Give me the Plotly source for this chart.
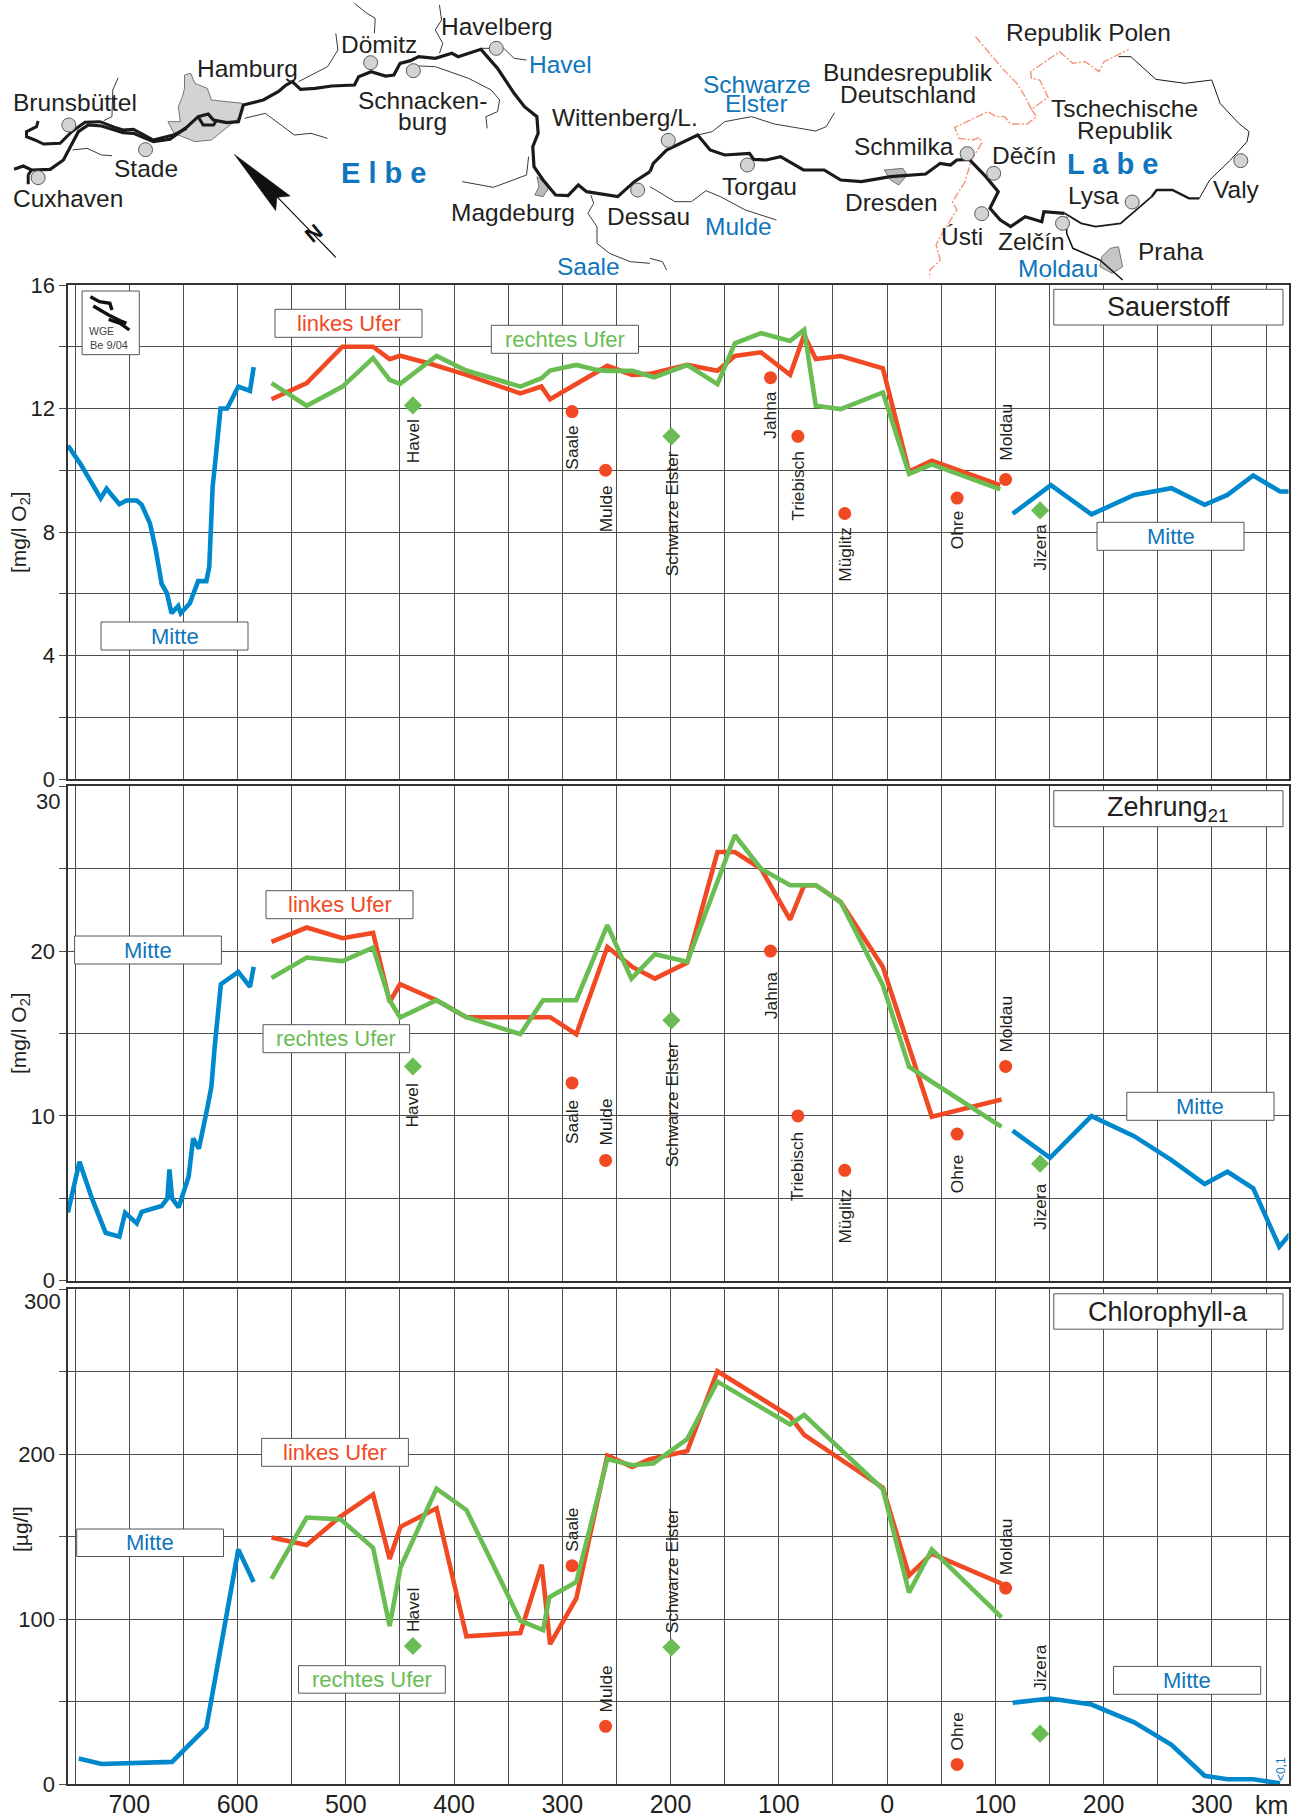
import plotly.graph_objects as go

W, H = 1298, 1820
FONT = "Liberation Sans"
DARK = "#231f20"
RED, GREEN, BLUE = "#f04923", "#69bd53", "#0088cc"
TBLUE = "#0f75bc"
GRID = "#4d4d4d"

# ---- Panel definitions -------------------------------------------------
PANEL_TITLES = ["Sauerstoff", "Zehrung<sub>21</sub>", "Chlorophyll-a"]
XTICKS = [-700, -600, -500, -400, -300, -200, -100, 0, 100, 200, 300]
XLABELS = ["700", "600", "500", "400", "300", "200", "100", "0", "100", "200", "300"]
XGRID = [-750, -650, -550, -450, -350, -250, -150, -50, 50, 150, 250, 350]

# ---- Sauerstoff --------------------------------------------------------
o2_mitte_l_km = [-756.7,-745,-726.4,-721,-709.2,-702.7,-693.1,-688.5,-680.9,-675.5,-670.1,-665.2,-661,-654.8,-652.5,-644.1,-636.4,-628.8,-626.1,-623,-621,-615.7,-609.6,-599.3,-588.5,-585.1]
o2_mitte_l = [10.8,10.2,9.09,9.4,8.9,9.02,9.02,8.88,8.28,7.42,6.32,6.02,5.37,5.6,5.37,5.69,6.41,6.41,6.88,9.47,10.12,12.0,12.0,12.71,12.57,13.34]
o2_links_km = [-568.6,-536.1,-503.1,-474.8,-459.5,-449.9,-421.2,-388.6,-338.8,-319.3,-311.3,-258.4,-235.4,-219.1,-184.6,-156.7,-140.6,-116.5,-89.6,-76.6,-65.9,-42.9,-3.9,20.3,41.3,104.5]
o2_links = [12.3,12.82,14.0,14.0,13.6,13.71,13.44,13.09,12.49,12.71,12.3,13.38,13.09,13.12,13.41,13.22,13.7,13.82,13.09,14.38,13.6,13.7,13.3,9.96,10.31,9.52]
o2_rechts_km = [-568.6,-536.1,-503.1,-474.8,-459.5,-449.9,-416.2,-388.6,-338.8,-319.3,-311.3,-287.1,-268,-258.4,-235.4,-215.3,-184.6,-156.7,-140.6,-116.5,-89.6,-76.6,-65.9,-42.9,-3.9,20.3,41.3,104.5]
o2_rechts = [12.82,12.09,12.71,13.63,12.93,12.8,13.7,13.23,12.71,12.98,13.23,13.41,13.25,13.22,13.22,13.01,13.41,12.79,14.11,14.44,14.19,14.55,12.09,11.98,12.52,9.88,10.19,9.38]
o2_mitte_r_km = [116,151.3,188.8,228.2,262.7,293.3,314.4,338.2,363,372.2]
o2_mitte_r = [8.59,9.52,8.57,9.2,9.42,8.88,9.2,9.83,9.31,9.31]
o2_trib_names = ["Havel","Saale","Mulde","Schwarze Elster","Jahna","Triebisch","Müglitz","Ohre","Moldau","Jizera"]
o2_trib_km = [-438,-291,-260,-199.2,-107.7,-82.4,-39.1,64.7,109.5,141.3]
o2_trib = [12.1,11.9,10.0,11.1,13.0,11.1,8.6,9.1,9.7,8.7]
o2_trib_gap = [-13,-13,-14,-14,-13,-14,-12,-12,18,-13]

# ---- Zehrung -----------------------------------------------------------
z_mitte_l_km = [-756.7,-746,-734.5,-721.8,-709.2,-703.8,-693.1,-688.5,-670.1,-664.8,-662.9,-660.5,-654.4,-645.2,-641,-635.7,-628,-624.2,-621.1,-615.4,-599.3,-588.5,-585.1]
z_mitte_l = [4.14,7.22,4.99,2.91,2.67,4.12,3.48,4.18,4.53,4.99,6.75,4.99,4.45,6.31,8.63,8.02,10.45,11.76,14.19,17.99,18.74,17.83,19.04]
z_links_km = [-568.6,-536.1,-503.1,-474.8,-459.5,-449.9,-416.2,-388.6,-311.3,-287.1,-258.4,-235.4,-214.5,-184.6,-156.7,-140.6,-116.5,-89.6,-76.6,-65.9,-42.9,-3.9,41.3,105.7]
z_links = [20.56,21.43,20.78,21.1,16.92,17.99,17.02,15.99,15.99,14.96,20.25,19.04,18.33,19.3,26.01,26.01,25,21.91,24,24,22.98,19.04,9.95,11.0]
z_rechts_km = [-568.6,-536.1,-503.1,-474.8,-459.5,-449.9,-416.2,-388.6,-338.8,-317.8,-287.1,-258.4,-236.2,-214.5,-184.6,-140.6,-116.5,-89.6,-65.9,-42.9,-3.9,20.3,41.3,105.7]
z_rechts = [18.37,19.61,19.39,20.21,17.02,15.97,17.02,15.99,14.96,17.02,17.02,21.57,18.33,19.81,19.35,27.03,25.0,24.0,24.0,22.98,17.93,12.98,12.07,9.34]
z_mitte_r_km = [116,150.5,188.8,228.2,262.7,293.3,314.4,338.2,362.3,372.2]
z_mitte_r = [9.1,7.46,9.99,8.77,7.32,5.86,6.61,5.6,2.06,2.83]
z_trib_names = ["Havel","Saale","Mulde","Schwarze Elster","Jahna","Triebisch","Müglitz","Ohre","Moldau","Jizera"]
z_trib_km = [-438,-291,-260,-199.2,-107.7,-82.4,-39.1,64.7,109.5,141.3]
z_trib = [13,12,7.3,15.8,20,10,6.7,8.9,13,7.1]
z_trib_gap = [-16,-16,14,-21,-20,-15,-17,-20,13,-19]

# ---- Chlorophyll-a -----------------------------------------------------
c_mitte_l_km = [-746.7,-725.7,-660.5,-628.8,-599.3,-585.1]
c_mitte_l = [15.4,12.1,13.4,34.2,142.2,122.5]
c_links_km = [-568.6,-536.1,-505.4,-474.8,-459.5,-449.5,-416.2,-388.6,-338.8,-319,-311.3,-287.1,-258.4,-235.4,-219.1,-184.6,-156.7,-89.6,-76.6,-3.9,20.3,41.3,105.7]
c_links = [149.5,144.9,162,175.6,136.5,156,167.2,89.6,91.6,133,84.8,112.5,199.2,192.3,197,201.9,250.3,222.8,211.7,179.7,126.5,139.7,121.5]
c_rechts_km = [-568.6,-536.1,-504.7,-474.8,-459.5,-449.5,-416.2,-388.6,-338.8,-317.8,-312,-287.1,-258.4,-235.4,-216,-184.6,-156.7,-89.6,-76.6,-3.9,20.3,41.3,105.7]
c_rechts = [124.4,161.6,160.5,143.2,95.8,131.3,179.1,166.2,99,93.3,113.2,122.5,197.1,193.3,194.4,209.2,244,218,223.8,178.7,116.1,142.2,101]
c_mitte_r_km = [116,150.5,188.8,228.2,262.7,293.3,314.4,338.2,363]
c_mitte_r = [49.3,51.8,48.2,37.4,23.8,5,2.9,2.9,0.4]
c_trib_names = ["Havel","Saale","Mulde","Schwarze Elster","Ohre","Moldau","Jizera"]
c_trib_km = [-438,-291,-260,-199.2,64.7,109.5,141.3]
c_trib = [83.7,132.4,35,82.9,11.9,118.8,30.5]
c_trib_gap = [13,13,13,13,13,12,42]

RIGHT_BANK = {"Havel", "Schwarze Elster", "Jizera"}

# ---- Map outlines (sketch coordinates) ---------------------------------
elbe_lower = [(34,508),(56,498),(76,510),(121,508),(153,480),(170,440),(189,395),(213,375),(245,378),(297,398),(322,400),(370,425),(410,418),(450,382),(478,350),(502,342),(515,360),(547,368),(575,365),(587,315),(635,300),(671,275),(690,255),(705,245),(725,268),(760,265),(800,258),(855,255),(865,230),(895,215),(930,228),(950,225),(965,190),(990,182),(1010,170),(1050,175),(1090,160),(1105,170),(1160,148),(1200,205),(1240,280),(1265,320),(1295,350),(1298,400),(1285,440),(1288,500),(1310,540),(1340,585),(1370,587),(1395,555),(1415,575),(1490,590),(1530,545),(1568,515)]
elbe_upper = [(0,515),(8,490),(40,450),(115,405),(145,450),(180,465),(240,460),(250,478),(280,480),(315,470),(370,510),(420,510),(460,540),(510,545),(580,530),(665,522),(700,490),(725,495),(740,480),(770,478),(810,530),(840,575),(820,625),(845,660),(870,680),(905,650),(945,665),(950,635),(1000,640)]
labe_mid = [(1000,640),(1040,670),(1075,680),(1135,670),(1210,590)]
labe_mid2 = [(1210,590),(1222,570),(1260,570),(1300,595),(1325,595)]
labe_thin = [(1325,595),(1350,540),(1400,480),(1440,425),(1445,395),(1420,370),(1375,310),(1355,240),(1290,250),(1220,238),(1160,170),(1130,170)]
moldau = [(1005,650),(1005,700),(1020,745),(1085,780),(1140,840)]
estuary = [(92,363),(88,380),(64,395),(64,410),(84,420),(105,432),(145,430),(173,395),(205,367),(241,365),(277,382),(297,390),(322,388),(370,420),(418,405),(450,385)]
cuxhaven_arm = [(76,510),(68,525),(68,553)]
hamburg_loop = [(478,350),(490,375),(515,375),(523,360)]
thin_left = [
    [(855,10),(885,40),(905,55),(903,100)],
    [(810,100),(815,150),(790,200),(720,245)],
    [(1060,15),(1065,60),(1050,90),(1068,130),(1060,160)],
    [(1160,145),(1215,145),(1240,175),(1270,180)],
    [(990,197),(1050,200),(1130,235),(1185,270),(1205,300),(1200,335),(1172,350),(1175,385)],
    [(590,355),(640,340),(710,405),(750,400),(790,415)],
    [(285,233),(272,270),(270,350),(250,362)],
    [(175,450),(210,445),(245,465),(270,467)],
    [(1115,545),(1190,562),(1270,525),(1275,470)],
    [(1425,585),(1432,610),(1418,640),(1440,680),(1440,730),(1470,760),(1520,785),(1568,790)],
]
thin_right = [
    [(0,560),(60,605),(100,605),(135,572),(170,590),(230,630),(305,660)],
    [(0,775),(30,785),(40,810)],
    [(115,405),(150,395),(180,365),(245,350),(300,372),(400,393),(425,380),(445,338)],
]
border_a = [(785,110),(850,205),(885,250),(905,290),(920,328),(960,292),(940,240),(920,235),(918,215),(988,155),(1020,190),(1050,185),(1083,215),(1095,185),(1155,148)]
border_b = [(920,328),(932,350),(910,372),(870,372),(855,350),(835,350),(815,335),(735,382),(745,415),(780,420),(795,412),(800,430),(775,480),(760,545),(730,605),(740,630),(700,710),(690,735),(700,780),(675,810),(675,835)]
hamburg = [(460,220),(445,225),(445,265),(440,290),(430,320),(435,365),(405,365),(420,400),(470,425),(510,420),(540,390),(580,350),(585,310),(540,305),(510,300),(500,265),(470,250)]
magdeburg = [(1295,530),(1300,560),(1290,585),(1310,590),(1325,560)]
dresden = [(565,510),(610,505),(620,525),(600,555),(580,540)]
praha = [(1090,770),(1110,745),(1130,740),(1140,800),(1115,820),(1085,800)]
arrow_head = [(565,463),(700,588),(668,592),(665,632)]
arrow_shaft = [(668,590),(810,772)]
towns_left = [(166,375),(351,449),(92,533),(894,188),(997,212),(1197,145),(1538,570)]
towns_right = [(44,421),(235,495),(765,461),(829,520),(800,641),(995,670),(1163,606),(1425,482)]

map_text_left = [
    ("Brunsbüttel",182,308,DARK),("Stade",351,505,DARK),("Cuxhaven",165,595,DARK),("Hamburg",598,205,DARK),
    ("Dömitz",913,132,DARK),("Havelberg",1198,80,DARK),("Havel",1352,193,TBLUE),("Schnacken-",1018,300,DARK),
    ("burg",1018,365,DARK),("Magdeburg",1237,637,DARK),("Saale",1420,800,TBLUE),
    ("Wittenberg/L.",1508,352,DARK),("Dessau",1565,648,DARK),
]
map_text_right = [
    ("Schwarze",258,253,TBLUE),("Elster",258,310,TBLUE),("Bundesrepublik",622,218,DARK),("Deutschland",622,283,DARK),
    ("Republik Polen",1057,98,DARK),("Tschechische",1145,325,DARK),("Republik",1145,390,DARK),("Torgau",265,558,DARK),
    ("Mulde",213,680,TBLUE),("Schmilka",612,440,DARK),("Dresden",583,608,DARK),("Děčín",902,467,DARK),
    ("Lysa",1070,585,DARK),("Valy",1415,567,DARK),("Ústi",753,708,DARK),("Zelčín",920,725,DARK),
    ("Moldau",983,805,TBLUE),("Praha",1257,755,DARK),
]

logo_box = [(198,33),(336,33),(336,224),(198,224),(198,33)]
logo_strokes = [[(218,50),(240,65),(265,70),(270,90)],[(225,78),(262,105),(295,125),(305,130)],[(262,118),(290,130),(312,150)]]

# label boxes: text, colour, left, top, right, bottom (page pixels)
boxes = [
    ("linkes Ufer",RED,275,309.3,422,337.3,22),("rechtes Ufer",GREEN,491.3,325.3,638.5,353.3,22),
    ("Mitte",TBLUE,101,622,248,650,22),("Mitte",TBLUE,1097,522.3,1244,550.3,22),
    (PANEL_TITLES[0],DARK,1053.8,289.3,1283,325,27),
    ("linkes Ufer",RED,266,890.7,413,918.7,22),("rechtes Ufer",GREEN,263,1024.7,409.6,1052.7,22),
    ("Mitte",TBLUE,74.6,936,221.4,964,22),("Mitte",TBLUE,1126.8,1092.3,1274,1120.3,22),
    (PANEL_TITLES[1],DARK,1053.8,790.7,1283,826.7,27),
    ("linkes Ufer",RED,261.6,1438.4,408.4,1466.3,22),("rechtes Ufer",GREEN,298.5,1665.7,445.3,1693.2,22),
    ("Mitte",TBLUE,76.7,1529,223.5,1556.5,22),("Mitte",TBLUE,1113.5,1666.4,1260.7,1694.3,22),
    (PANEL_TITLES[2],DARK,1053.8,1293.8,1283,1329.2,27),
]

# ---- Geometry ----------------------------------------------------------
XL, XR = 68, 1288.5
PANELS = [(285, 779), (786.3, 1280.7), (1289.3, 1784)]
YTICKS = [[0, 4, 8, 12, 16], [0, 10, 20], [0, 100, 200]]
YLABELS = [["0", "4", "8", "12", "16"], ["0", "10", "20"], ["0", "100", "200"]]
YGRID = [[2, 6, 10, 14], [5, 15, 25, 30], [50, 150, 250, 300]]
YRANGE = [[0, 16], [0, 30], [0, 300]]
KM_LEFT = -756.6
KM_RIGHT = KM_LEFT + (XR - XL) / 1.0826

fig = go.Figure()


def line(xax, yax, xs, ys, color, width=4.6, dash=None):
    fig.add_trace(go.Scatter(x=xs, y=ys, mode="lines", xaxis=xax, yaxis=yax, hoverinfo="skip",
                             line=dict(color=color, width=width, dash=dash), showlegend=False))


datasets = [
    (o2_mitte_l_km,o2_mitte_l,o2_links_km,o2_links,o2_rechts_km,o2_rechts,o2_mitte_r_km,o2_mitte_r,o2_trib_names,o2_trib_km,o2_trib,o2_trib_gap),
    (z_mitte_l_km,z_mitte_l,z_links_km,z_links,z_rechts_km,z_rechts,z_mitte_r_km,z_mitte_r,z_trib_names,z_trib_km,z_trib,z_trib_gap),
    (c_mitte_l_km,c_mitte_l,c_links_km,c_links,c_rechts_km,c_rechts,c_mitte_r_km,c_mitte_r,c_trib_names,c_trib_km,c_trib,c_trib_gap),
]

annotations = []
for i, d in enumerate(datasets):
    xa, ya = f"x{i+1 if i else ''}", f"y{i+1 if i else ''}"
    names = d[8]
    reds = [j for j, n in enumerate(names) if n not in RIGHT_BANK]
    greens = [j for j, n in enumerate(names) if n in RIGHT_BANK]
    fig.add_trace(go.Scatter(x=[d[9][j] for j in reds], y=[d[10][j] for j in reds], mode="markers", xaxis=xa, yaxis=ya,
                             hoverinfo="skip", showlegend=False, marker=dict(symbol="circle", size=13, color=RED)))
    fig.add_trace(go.Scatter(x=[d[9][j] for j in greens], y=[d[10][j] for j in greens], mode="markers", xaxis=xa, yaxis=ya,
                             hoverinfo="skip", showlegend=False, marker=dict(symbol="diamond", size=14, color=GREEN)))
    line(xa, ya, d[0], d[1], BLUE)
    line(xa, ya, d[2], d[3], RED)
    line(xa, ya, d[4], d[5], GREEN)
    line(xa, ya, d[6], d[7], BLUE)
    for n, km, v, g in zip(d[8], d[9], d[10], d[11]):
        annotations.append(dict(text=n, x=km, y=v, xref=xa, yref=ya, showarrow=False, textangle=-90, yshift=g,
                                yanchor="top" if g < 0 else "bottom", xanchor="center", borderpad=0,
                                font=dict(family=FONT, size=17.3, color=DARK)))

# map + logo on a page-pixel overlay
OV = ("x4", "y4")


def L(pts):
    return [p[0] / 2.412 for p in pts], [p[1] / 3 for p in pts]


def R(pts):
    return [650 + p[0] / 2.412 for p in pts], [p[1] / 3 for p in pts]


def LG(pts):
    return [p[0] / 2.412 for p in pts], [280 + p[1] / 3 for p in pts]


def poly(xy, fill, outline="#58595b", w=0.8):
    fig.add_trace(go.Scatter(x=xy[0] + xy[0][:1], y=xy[1] + xy[1][:1], mode="lines", fill="toself", fillcolor=fill,
                             line=dict(color=outline, width=w), xaxis=OV[0], yaxis=OV[1], hoverinfo="skip", showlegend=False))


poly(L(hamburg), "#d1d3d4")
poly(L(magdeburg), "#b9bbbd")
poly(R(dresden), "#b9bbbd")
poly(R(praha), "#c4c6c8")
for pts in thin_left:
    line(*OV, *L(pts), "#3a3a3a", 1)
for pts in thin_right:
    line(*OV, *R(pts), "#3a3a3a", 1)
line(*OV, *R(border_a), "#f4957a", 1.4, "8px,2px,2px,2px")
line(*OV, *R(border_b), "#f4957a", 1.4, "8px,2px,2px,2px")
line(*OV, *L(elbe_lower), "#1a1a1a", 3.2)
line(*OV, *L(estuary), "#1a1a1a", 3)
line(*OV, *L(cuxhaven_arm), "#1a1a1a", 3)
line(*OV, *L(hamburg_loop), "#1a1a1a", 3)
line(*OV, *R(elbe_upper), "#1a1a1a", 3.2)
line(*OV, *R(labe_mid), "#1a1a1a", 1.8)
line(*OV, *R(labe_mid2), "#1a1a1a", 2.4)
line(*OV, *R(labe_thin), "#1a1a1a", 1)
line(*OV, *R(moldau), "#1a1a1a", 1.6)
poly(L(arrow_head), "#111111", "#111111", 0.5)
line(*OV, *L(arrow_shaft), "#111111", 1.2)
tx = L(towns_left)[0] + R(towns_right)[0]
ty = L(towns_left)[1] + R(towns_right)[1]
fig.add_trace(go.Scatter(x=tx, y=ty, mode="markers", xaxis=OV[0], yaxis=OV[1], hoverinfo="skip", showlegend=False,
                         marker=dict(size=14, color="#d1d3d4", line=dict(color="#58595b", width=1))))
# logo
poly(LG(logo_box), "#ffffff", "#555555", 1)
for pts in logo_strokes:
    line(*OV, *LG(pts), "#111111", 3.4)


def page(text, x, y, size, color=DARK, **kw):
    annotations.append(dict(text=text, x=x, y=y, xref="x4", yref="y4", showarrow=False,
                            xanchor="center", yanchor="middle", borderpad=0,
                            font=dict(family=FONT, size=size, color=color), **kw))


for t, xx, yy, c in map_text_left:
    page(t, xx / 2.412, yy / 3, 24.5, c)
for t, xx, yy, c in map_text_right:
    page(t, 650 + xx / 2.412, yy / 3, 24.5, c)
page("<b>E l b e</b>", 925 / 2.412, 518 / 3, 29, TBLUE)
page("<b>L a b e</b>", 650 + 1115 / 2.412, 492 / 3, 29, TBLUE)
page("<b>N</b>", 755 / 2.412, 700 / 3, 21, "#111111", textangle=-40)
page("WGE", 245 / 2.412, 280 + 153 / 3, 10.5, "#444444")
page("Be 9/04", 262 / 2.412, 280 + 195 / 3, 11, "#444444")
page("[mg/l O<sub>2</sub>]", 20, 532, 21, textangle=-90)
page("[mg/l O<sub>2</sub>]", 20, 1033, 21, textangle=-90)
page("[µg/l]", 20, 1529, 21, textangle=-90)
page("30", 48, 801, 22)
page("300", 42, 1301, 22)
page("km", 1271, 1805, 25)
page("&lt;0,1", 1281, 1769, 12, TBLUE, textangle=-90)

shapes = []
for t, c, x0, y0, x1, y1, s in boxes:
    shapes.append(dict(type="rect", xref="x4", yref="y4", x0=x0, x1=x1, y0=y0, y1=y1,
                       fillcolor="white", line=dict(color="#555555", width=1), layer="above"))
    page(t, (x0 + x1) / 2, (y0 + y1) / 2, s, c)

layout = dict(width=W, height=H, margin=dict(l=0, r=0, t=0, b=0, pad=0, autoexpand=False), paper_bgcolor="white",
              plot_bgcolor="rgba(0,0,0,0)", showlegend=False, shapes=shapes, annotations=annotations, hovermode=False)
for i, (top, bot) in enumerate(PANELS):
    suf = str(i + 1) if i else ""
    layout[f"xaxis{suf}"] = dict(domain=[XL / W, XR / W], range=[KM_LEFT, KM_RIGHT], anchor=f"y{suf}", tickmode="array",
                                 tickvals=XTICKS, ticktext=XLABELS, showticklabels=(i == 2),
                                 showgrid=True, gridcolor=GRID, gridwidth=1.2, zeroline=False, showline=True, mirror=True,
                                 linecolor="#333333", linewidth=2, ticks="", ticklabelstandoff=-3,
                                 minor=dict(tickmode="array", tickvals=XGRID, showgrid=True, gridcolor=GRID, gridwidth=1.2, ticks=""),
                                 tickfont=dict(family=FONT, size=25, color=DARK), fixedrange=True)
    layout[f"yaxis{suf}"] = dict(domain=[1 - bot / H, 1 - top / H], range=YRANGE[i], anchor=f"x{suf}", tickmode="array",
                                 tickvals=YTICKS[i], ticktext=YLABELS[i], showgrid=True, gridcolor=GRID, gridwidth=1.2,
                                 zeroline=False, showline=True, mirror=True, linecolor="#333333", linewidth=2,
                                 ticks="outside", ticklen=6.6, tickwidth=1.2, tickcolor=GRID,
                                 minor=dict(tickmode="array", tickvals=YGRID[i], showgrid=True, gridcolor=GRID, gridwidth=1.2,
                                            ticks="outside", ticklen=6.6, tickwidth=1.2, tickcolor=GRID),
                                 tickfont=dict(family=FONT, size=22, color=DARK), fixedrange=True)
layout["xaxis4"] = dict(domain=[0, 1], range=[0, W], anchor="y4", visible=False, fixedrange=True)
layout["yaxis4"] = dict(domain=[0, 1], range=[H, 0], anchor="x4", visible=False, fixedrange=True)
fig.update_layout(**layout)
fig.write_html("out.html", config=dict(displayModeBar=False), post_script="document.body.style.margin='0';")
